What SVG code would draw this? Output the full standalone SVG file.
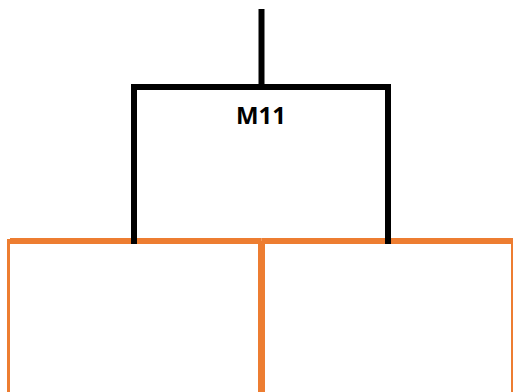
<svg xmlns="http://www.w3.org/2000/svg" width="513" height="392" viewBox="0 0 513 392">
  <style>
    .blk { stroke: #000000; stroke-width: 6; fill: none; }
    .org { stroke: #ED7D31; fill: none; }
    .lbl { font-family: "Noto Sans", "Liberation Sans", sans-serif; font-weight: bold; font-size: 23px; fill: #000000; }
  </style>
  <rect width="513" height="392" fill="#ffffff"/>
  <g id="connectors">
    <line class="blk" x1="261.5" y1="9" x2="261.5" y2="87"/>
    <line class="org" stroke-width="3" x1="8.5" y1="239" x2="8.5" y2="392"/>
    <line class="org" stroke-width="2" x1="512" y1="241" x2="512" y2="392"/>
    <line class="org" stroke-width="7" x1="261.5" y1="241" x2="261.5" y2="392"/>
  </g>
  <g id="node-left-child">
    <line class="org" stroke-width="6" x1="10" y1="241" x2="261.5" y2="241"/>
  </g>
  <g id="node-right-child">
    <line class="org" stroke-width="6" x1="261.5" y1="241" x2="513" y2="241"/>
  </g>
  <g id="node-M11">
    <polyline class="blk" points="134,244 134,87 388,87 388,244"/>
    <text class="lbl" x="261" y="124.3" text-anchor="middle" textLength="50" lengthAdjust="spacingAndGlyphs">M11</text>
  </g>
</svg>
